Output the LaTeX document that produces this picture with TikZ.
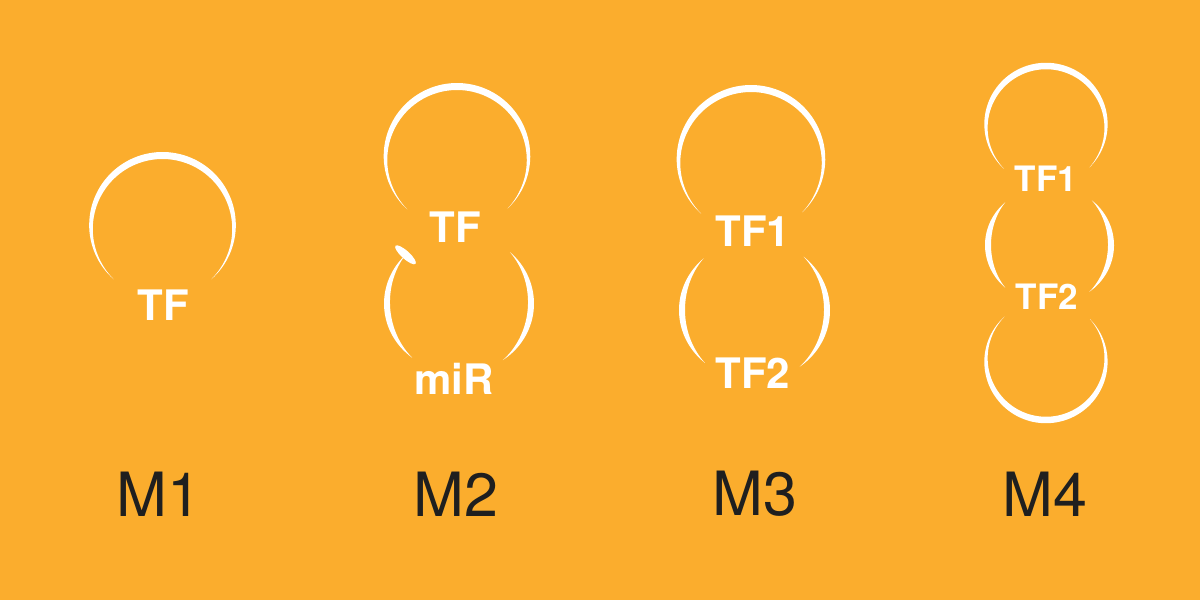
\documentclass[tikz,border=0pt]{standalone}
\usepackage{fontspec}
\setmainfont{TeX Gyre Heros}
\definecolor{bgorange}{HTML}{FBAD2D}
\definecolor{darktext}{HTML}{1F1F1F}
\newcommand{\cres}[6]{%
  \fill[white] plot[domain=#4:#5, samples=90, variable=\ang]
    ({#1+(#3+#6/2*sin(180/((#5)-(#4))*(\ang-(#4))))*cos(\ang)},
     {#2+(#3+#6/2*sin(180/((#5)-(#4))*(\ang-(#4))))*sin(\ang)})
    -- plot[domain=#5:#4, samples=90, variable=\ang]
    ({#1+(#3-#6/2*sin(180/((#5)-(#4))*(\ang-(#4))))*cos(\ang)},
     {#2+(#3-#6/2*sin(180/((#5)-(#4))*(\ang-(#4))))*sin(\ang)}) -- cycle;}
\tikzset{
  genelab/.style={text=white, inner sep=0pt, font=\bfseries\fontsize{42}{42}\selectfont},
  genelabsmall/.style={text=white, inner sep=0pt, font=\bfseries\fontsize{35}{35}\selectfont},
  motiflab/.style={text=darktext, inner sep=0pt, font=\fontsize{61}{61}\selectfont}
}
\begin{document}
\begin{tikzpicture}[x=1pt,y=1pt]
\fill[bgorange] (0,0) rectangle (1200,600);
\useasboundingbox (0,0) rectangle (1200,600);
% M1
\cres{162.5}{373}{71.5}{-47}{227}{7}
\node[genelab] (m1tf) at (163,295) {TF};
\node[motiflab] (m1) at (159,106) {M1};
% M2
\cres{457}{442}{71.5}{-45}{226}{7}
\cres{459}{297}{72}{138}{229.5}{6}
\cres{459}{297}{72}{-52.5}{45}{6}
\fill[white] (405.5,345.2) ellipse[x radius=13.5, y radius=4, rotate=138];
\node[genelab] (m2tf) at (455,373) {TF};
\node[genelab] (m2mir) at (454,221) {miR};
\node[motiflab] (m2) at (456,106) {M2};
% M3
\cres{751}{439}{72.5}{-45}{226.6}{7}
\cres{754.5}{290}{72.5}{134.7}{226.9}{6}
\cres{754.5}{290}{72.5}{-51.4}{47.4}{6}
\node[genelab] (m3tf1) at (753,369) {TF1};
\node[genelab] (m3tf2) at (753,227) {TF2};
\node[motiflab] (m3) at (755,106) {M3};
% M4
\cres{1046}{474}{60}{-43.7}{225.7}{6.5}
\cres{1049.5}{355}{61.5}{136}{224}{6}
\cres{1049.5}{355}{61.5}{-49.5}{46.6}{6}
\cres{1046}{240}{60}{133.7}{403}{6.5}
\node[genelabsmall] (m4tf1) at (1046,421) {TF1};
\node[genelabsmall] (m4tf2) at (1047,303) {TF2};
\node[motiflab] (m4) at (1045,106) {M4};
\end{tikzpicture}
\end{document}
